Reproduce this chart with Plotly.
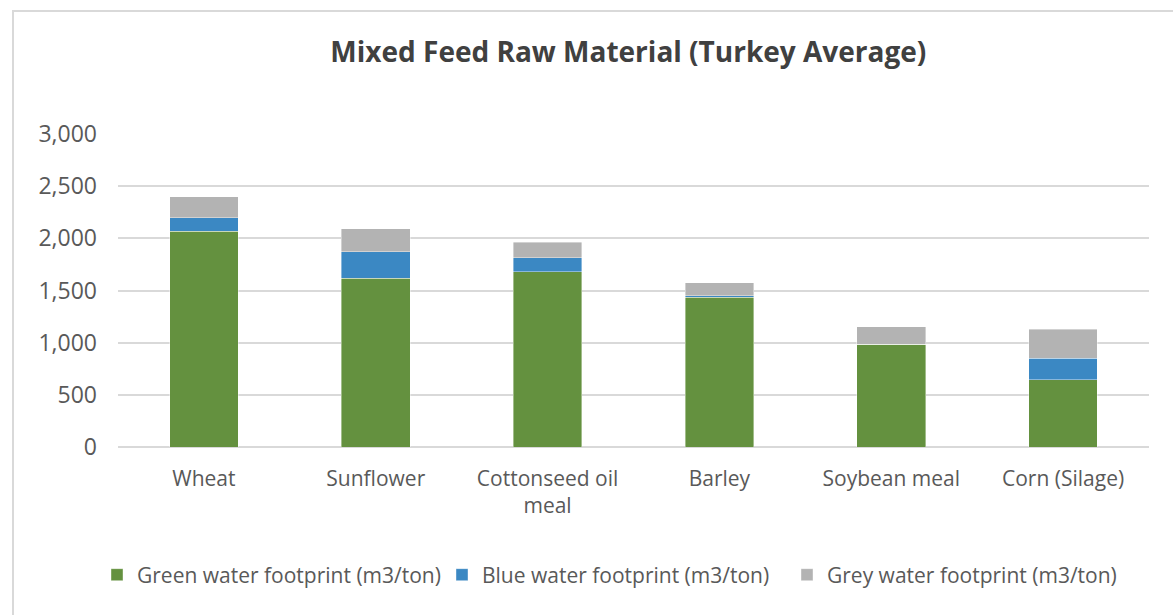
import plotly.graph_objects as go

categories = ["Wheat", "Sunflower", "Cottonseed oil<br>meal", "Barley", "Soybean meal", "Corn (Silage)"]
green_values = [2067, 1618, 1678, 1436, 987, 647]
blue_values = [130, 254, 137, 12, 0, 206]
grey_values = [200, 220, 147, 128, 166, 274]
series_names = ["Green water footprint (m3/ton)", "Blue water footprint (m3/ton)", "Grey water footprint (m3/ton)"]
y_ticks = [0, 500, 1000, 1500, 2000, 2500, 3000]

colors = ["#64913f", "#3b88c3", "#b3b3b3"]
FONT = "Open Sans"
TXT = "#595959"

fig = go.Figure()
for name, vals, col in zip(series_names, [green_values, blue_values, grey_values], colors):
    fig.add_trace(go.Bar(
        x=categories, y=vals, name=name,
        marker=dict(color=col, line=dict(color="rgba(255,255,255,0.5)", width=0.8)),
    ))

W, H = 1173, 615
L, R, T, B = 118, 24, 134, 168
pw, ph = W - L - R, H - T - B

fig.update_layout(
    width=W, height=H,
    margin=dict(l=L, r=R, t=T, b=B, autoexpand=False),
    barmode="stack",
    bargap=0.6,
    plot_bgcolor="white",
    paper_bgcolor="white",
    font=dict(family=FONT, color=TXT, size=20),
    title=dict(
        text="<b>Mixed Feed Raw Material (Turkey Average)</b>",
        x=0.495, xref="paper", xanchor="center",
        y=1 - 52 / H, yref="container", yanchor="middle",
        font=dict(family=FONT, size=28, color="#404040"),
    ),
    xaxis=dict(
        showgrid=False,
        showline=False,
        tickfont=dict(size=21, color=TXT),
        ticklabelstandoff=17,
    ),
    yaxis=dict(
        range=[0, 3000],
        tickvals=y_ticks,
        tickformat=",",
        showgrid=True,
        gridcolor="#d9d9d9",
        gridwidth=1.5,
        zeroline=True,
        zerolinecolor="#d9d9d9",
        zerolinewidth=1.5,
        showline=False,
        tickfont=dict(size=23, color=TXT),
        ticklabelstandoff=20,
    ),
    legend=dict(
        orientation="h",
        x=(97 - L) / pw, xanchor="left",
        y=-(575 - (T + ph)) / ph, yanchor="middle",
        entrywidth=300, entrywidthmode="pixels",
        itemwidth=30,
        font=dict(size=21, color=TXT),
        traceorder="normal",
        bgcolor="rgba(0,0,0,0)",
    ),
    shapes=[dict(
        type="rect", xref="paper", yref="paper",
        x0=(13 - L) / pw, x1=(W + 10 - L) / pw,
        y0=-(H + 10 - (T + ph)) / ph, y1=1 + (T - 11) / ph,
        line=dict(color="#d9d9d9", width=2),
        fillcolor="rgba(0,0,0,0)", layer="below",
    )],
)

fig.write_html("out.html")
